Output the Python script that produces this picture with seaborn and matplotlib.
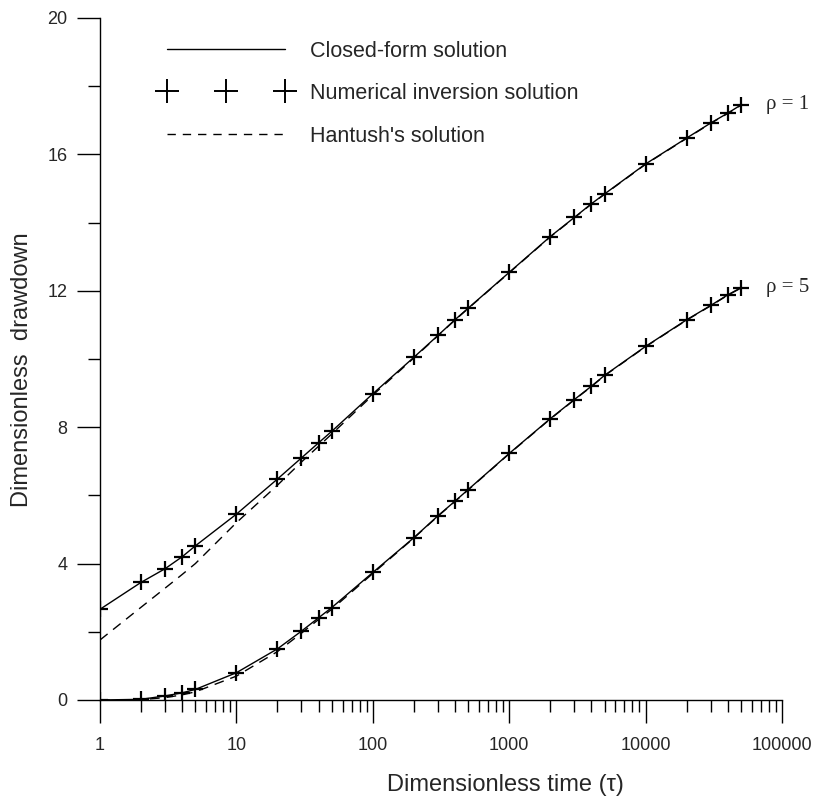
import matplotlib
matplotlib.use("Agg")
import matplotlib.pyplot as plt
import seaborn as sns
import numpy as np
import pandas as pd
from matplotlib.lines import Line2D
from matplotlib.legend_handler import HandlerLine2D
from matplotlib.ticker import FixedLocator, NullFormatter, LogLocator

# ---------------- data ----------------
tau = [1, 2, 3, 4, 5, 10, 20, 30, 40, 50, 100, 200, 300, 400, 500,
       1000, 2000, 3000, 4000, 5000, 10000, 20000, 30000, 40000, 50000]

rho1_closed = [2.66, 3.45, 3.85, 4.20, 4.52, 5.45, 6.48, 7.10, 7.54, 7.88,
               8.98, 10.05, 10.69, 11.15, 11.49, 12.54, 13.59, 14.15, 14.55,
               14.84, 15.72, 16.48, 16.92, 17.21, 17.45]
rho1_numerical = [2.66, 3.45, 3.85, 4.20, 4.52, 5.45, 6.48, 7.10, 7.54, 7.88,
                  8.98, 10.05, 10.69, 11.15, 11.49, 12.54, 13.59, 14.15, 14.55,
                  14.84, 15.72, 16.48, 16.92, 17.21, 17.45]
rho1_hantush = [1.76, 2.72, 3.28, 3.68, 4.00, 5.20, 6.30, 6.98, 7.44, 7.80,
                8.94, 10.03, 10.68, 11.14, 11.48, 12.53, 13.58, 14.14, 14.54,
                14.83, 15.71, 16.47, 16.91, 17.20, 17.44]

rho5_closed = [0.00, 0.02, 0.12, 0.21, 0.31, 0.80, 1.50, 2.02, 2.41, 2.71,
               3.74, 4.76, 5.40, 5.83, 6.17, 7.23, 8.25, 8.81, 9.20, 9.52,
               10.37, 11.15, 11.57, 11.88, 12.09]
rho5_numerical = [0.00, 0.02, 0.12, 0.21, 0.31, 0.80, 1.50, 2.02, 2.41, 2.71,
                  3.74, 4.76, 5.40, 5.83, 6.17, 7.23, 8.25, 8.81, 9.20, 9.52,
                  10.37, 11.15, 11.57, 11.88, 12.09]
rho5_hantush = [0.00, 0.01, 0.07, 0.15, 0.24, 0.70, 1.42, 1.96, 2.36, 2.66,
                3.71, 4.75, 5.39, 5.82, 6.16, 7.22, 8.24, 8.80, 9.19, 9.51,
                10.36, 11.14, 11.56, 11.87, 12.08]

rho_labels = ["\u03c1 = 1", "\u03c1 = 5"]
legend_labels = ["Closed-form solution", "Numerical inversion solution",
                 "Hantush's solution"]
x_ticks = [1, 10, 100, 1000, 10000, 100000]
x_ticklabels = ["1", "10", "100", "1000", "10000", "100000"]
y_ticks = [0, 4, 8, 12, 16, 20]
y_minor = [2, 6, 10, 14, 18]

# ---------------- figure ----------------
sns.set_style("ticks")
plt.rcParams['font.family'] = ['Liberation Sans', 'DejaVu Sans']

fig = plt.figure(figsize=(8.14, 8.0), dpi=100)
ax = fig.add_axes([100 / 814, 100 / 800, 682 / 814, 682 / 800])

closed = [rho1_closed, rho5_closed]
numer = [rho1_numerical, rho5_numerical]
hant = [rho1_hantush, rho5_hantush]

for c, n, h in zip(closed, numer, hant):
    sns.lineplot(x=tau, y=c, ax=ax, color="black", lw=1.0, sort=False,
                 estimator=None)
    sns.lineplot(x=tau, y=h, ax=ax, color="black", lw=1.0, sort=False,
                 estimator=None, linestyle=(0, (7, 5)))
    sns.scatterplot(x=tau, y=n, ax=ax, marker="+", s=120, color="black",
                    linewidth=1.6, zorder=5)

for c, lab in zip(closed, rho_labels):
    ax.annotate(lab, xy=(tau[-1], c[-1]), xytext=(18, 0),
                textcoords="offset points", va="center", ha="left",
                family=["Liberation Serif", "DejaVu Serif"], fontsize=15)

ax.set_xscale("log")
ax.set_xlim(1, 100000)
ax.set_ylim(0, 20)
ax.set_xticks(x_ticks)
ax.set_xticklabels(x_ticklabels)
ax.xaxis.set_minor_locator(LogLocator(base=10, subs=np.arange(2, 10)))
ax.xaxis.set_minor_formatter(NullFormatter())
ax.set_yticks(y_ticks)
ax.set_yticklabels([str(v) for v in y_ticks])
ax.yaxis.set_minor_locator(FixedLocator(y_minor))

ax.tick_params(axis="both", which="major", direction="out", length=16.5,
               width=1, labelsize=13, pad=7, color="black")
ax.tick_params(axis="both", which="minor", direction="out", length=8.5,
               width=1, color="black")
ax.tick_params(axis="x", which="major", pad=10)

sns.despine(ax=ax)
for s in ["left", "bottom"]:
    ax.spines[s].set_color("black")
    ax.spines[s].set_linewidth(1.0)

ax.set_xlabel("Dimensionless time (\u03c4)", fontsize=17)
ax.set_ylabel("Dimensionless  drawdown", fontsize=17)
ax.xaxis.set_label_coords(0.594, -0.108)
ax.yaxis.set_label_coords(-0.098, 0.484)

h1 = Line2D([], [], color="black", lw=1.0)
h2 = Line2D([], [], color="black", marker="+", ls="none", ms=17, mew=1.4)
h3 = Line2D([], [], color="black", lw=1.0, ls=(0, (6, 5)))
ax.legend([h1, h2, h3], legend_labels, loc="upper left",
          bbox_to_anchor=(0.098, 0.967), frameon=False, fontsize=15.5,
          handlelength=5.5, handletextpad=1.15, labelspacing=1.0,
          borderpad=0, borderaxespad=0,
          handler_map={h2: HandlerLine2D(numpoints=3, marker_pad=0)})

fig.savefig("out.png", dpi=100)
